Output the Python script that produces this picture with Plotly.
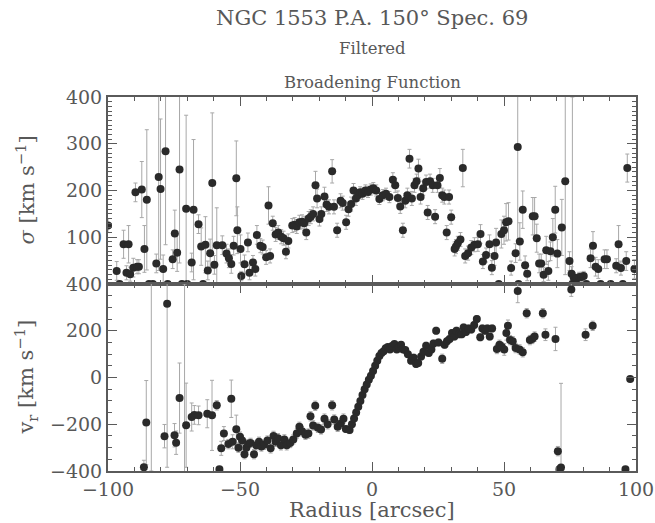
import plotly.graph_objects as go
from plotly.subplots import make_subplots

# ---------------- data ----------------
sig_r = [-100, -96.7, -95.6, -94.1, -93, -92.2, -91.6, -90.4, -89.6, -89, -88.3, -87.2, -86.2, -85.3,
         -84.5, -83, -81.7, -80.8, -80.1, -79.1, -78.2, -77.4, -75.5, -74.7, -73.8, -72.9, -72, -70.4,
         -70, -68.3, -67.6, -65.7, -64.7, -64, -63.1, -62.2, -61.3, -60.5, -59.7, -58.8, -56.7, -55.1,
         -54.2, -53.3, -52.4, -51.4, -51, -49.8, -49.5, -48.3, -47, -46.4, -45.1, -44.2, -43.6, -42.3,
         -41.4, -40.1, -39.2, -38.6, -37.6, -36.5, -35.5, -34.4, -33.5, -32.6, -31.7, -30.2, -29.3,
         -28.5, -27.5, -26.5, -25.7, -24.9, -24, -23.2, -22.3, -21.4, -20.8, -19.9, -19.2, -18, -17.2,
         -16.3, -15.1, -14.4, -13.2, -11.9, -11.1, -9.8, -8.9, -7.9, -7, -6.1, -5.3, -4.5, -3.6, -2.5,
         -1.5, -0.5, 0.5, 1.6, 2.8, 4.1, 5.3, 6.6, 7.9, 8.8, 9.8, 10.7, 11.7, 12.6, 13.4, 14.2, 15.1,
         16.1, 16.9, 17.6, 18.4, 19.4, 20.5, 21.1, 22, 23, 23.9, 24.8, 25.7, 26.6, 27.4, 28.3, 29.2, 30,
         31.3, 31.8, 32.5, 33.5, 34.4, 35.3, 36.4, 37.6, 38.8, 40.1, 41.1, 42, 43.2, 44.5, 45.4, 46.4,
         47, 48, 49, 50, 50.8, 51.7, 52.7, 54.4, 55.2, 55.5, 56, 57.1, 58, 58.8, 60.9, 61.6, 62.4, 63.3,
         64.1, 65, 66, 66.8, 67.6, 68.5, 69.4, 70.2, 71.9, 73.2, 74.8, 75.6, 75.9, 76.4, 77.4, 78.5,
         79.4, 80.2, 81.2, 82.8, 83.7, 84.7, 85.7, 86.6, 88.1, 89, 90.4, 92.5, 93.4, 94.3, 95, 96.3,
         96.7, 99.4]
sig_v = [125, 28, 0, 85, 24, 85, 21, 35, 196, 37, 37, 202, 75, 180,
         0, 0, 44, 229, 203, 32, 284, 0, 53, 108, 67, 245, 0, 161,
         0, 46, 159, 128, 80, 0, 84, 29, 66, 216, 41, 83, 83, 65,
         55, 43, 82, 226, 115, 75, 17, 42, 89, 24, 46, 32, 105, 82,
         79, 57, 168, 60, 130, 106, 110, 101, 98, 69, 92, 125, 127,
         123, 132, 133, 130, 110, 140, 144, 150, 211, 183, 139, 150, 187, 170,
         165, 241, 165, 115, 178, 173, 132, 160, 171, 200, 183, 190, 196, 193, 200,
         197, 202, 205, 200, 182, 190, 193, 186, 223, 211, 184, 166, 115, 178, 190, 268, 183,
         211, 220, 247, 186, 205, 218, 153, 220, 211, 144, 211, 227, 190, 186, 110, 186, 143,
         75, 80, 87, 95, 248, 60, 66, 78, 84, 85, 107, 48, 62, 85, 35, 60,
         89, 0, 107, 115, 132, 134, 34, 66, 293, 0, 91, 159, 40, 22, 145, 145, 98, 44,
         44, 20, 72, 28, 70, 100, 159, 65, 121, 220, 49, 22, 0, 14, 10, 15,
         15, 17, 0, 55, 82, 37, 32, 0, 53, 53, 0, 39, 85, 34, 0, 49,
         248, 32]
sig_e = [15, 20, 5, 30, 15, 40, 15, 20, 20, 15, 15, 60, 50, 150,
         5, 5, 20, 200, 150, 30, 200, 5, 20, 50, 40, 200, 5, 200,
         5, 20, 150, 20, 40, 5, 60, 20, 30, 150, 20, 80, 20, 20,
         20, 20, 20, 80, 50, 30, 10, 20, 20, 15, 15, 15, 20, 15,
         15, 15, 40, 15, 15, 15, 15, 15, 15, 15, 15, 15, 15,
         15, 15, 15, 15, 15, 15, 15, 15, 30, 20, 15, 15, 20, 15,
         15, 25, 15, 15, 15, 15, 15, 15, 15, 15, 15, 12, 12, 12, 12,
         12, 12, 12, 12, 12, 12, 12, 12, 15, 15, 15, 15, 15, 15, 15, 20, 15,
         15, 15, 20, 15, 15, 15, 15, 15, 15, 15, 15, 20, 15, 15, 15, 15, 15,
         15, 15, 15, 15, 40, 15, 15, 15, 15, 15, 20, 15, 15, 20, 15, 20,
         30, 5, 30, 30, 40, 40, 15, 20, 200, 5, 40, 40, 20, 15, 40, 40, 30, 20,
         20, 15, 30, 20, 20, 40, 50, 30, 60, 200, 20, 15, 400, 10, 10, 10,
         10, 10, 5, 20, 30, 20, 20, 5, 20, 20, 5, 15, 40, 15, 5, 20,
         30, 20]

vel_r = [-86.4, -85.5, -83.6, -78.6, -77.6, -74.8, -74.2, -72.9, -71.0, -70.4, -68.3, -67.3, -65.7,
         -62.4, -60.6, -58.8, -57.8, -57.1, -56.1, -54.4, -53.3, -52.8, -51.4, -50.6, -50, -49.2,
         -48.3, -47.6, -46.9, -46, -44.7, -43.8, -42.8, -41.9, -40.9, -39.6, -38.4, -37.3, -36.5,
         -35.6, -34.5, -33.2, -32.3, -31, -29.8, -28.5, -27.5, -26.5, -25.2, -24.1, -23.3, -22.3,
         -21.5, -20.5, -19.3, -18, -16.8, -15.1, -14.3, -13, -11.8, -10.8, -9.9, -8.5, -7.6, -6.8,
         -6, -5.2, -4.4, -3.6, -2.8, -2, -1.2, -0.4, 0.4, 1.2, 2, 2.8, 3.6, 4.4, 5.2, 6, 6.8, 7.6,
         8.5, 9.4, 10.2, 11, 11.8, 12.6, 13.6, 14.8, 15.8, 16.7, 17.5, 18.6, 19.5, 20.5, 21.5, 22.5,
         23.3, 24.3, 25.2, 26.6, 27.5, 28.4, 29.4, 30.3, 31.2, 32, 33, 34, 34.7, 35.6, 36.6, 37.6,
         38.7, 39.7, 41, 41.8, 42.8, 43.7, 44.6, 45.5, 47.3, 48.3, 49.2, 50.1, 50.9, 51.5, 52.3,
         53.3, 54.4, 55.2, 55.9, 57.1, 58.6, 59.8, 60.7, 61.6, 64.7, 65.7, 69.5, 70.4, 71, 71.6,
         75.5, 80.9, 83.6, 96, 97.8]
vel_v = [-384, -193, 450, -251, 316, -247, -279, -88, -450, -204, -169, -160, -162,
         -155, -162, -119, -393, -303, -240, -285, -91, -275, -221, -300, -253, -270,
         -328, -300, -285, -280, -328, -290, -275, -295, -288, -270, -303, -250, -275,
         -260, -290, -265, -290, -280, -265, -240, -211, -230, -245, -240, -166, -205,
         -121, -215, -222, -176, -200, -119, -180, -211, -197, -176, -220, -225, -200, -175,
         -150, -125, -100, -75, -50, -30, -10, 8, 28, 50, 72, 92, 105, 112, 125, 130, 120, 135,
         143, 120, 128, 140, 120, 118, 100, 72, 85, 58, 62, 90, 110, 136, 105, 120,
         145, 200, 150, 80, 140, 155, 165, 190, 175, 200, 185, 185, 214, 195, 210, 205,
         225, 250, 172, 210, 200, 210, 175, 210, 122, 140, 130, 120, 190, 221, 160,
         155, 126, 370, 120, 108, 275, 160, 165, 175, 275, 183, 165, -315, -393, -385,
         377, 183, 221, -393, -6]
vel_e = [30, 180, 850, 50, 700, 50, 50, 150, 850, 180, 60, 40, 40,
         60, 150, 20, 10, 30, 30, 20, 80, 30, 60, 20, 20, 20,
         20, 20, 20, 20, 20, 20, 20, 20, 20, 20, 20, 20, 20,
         20, 20, 20, 20, 20, 20, 20, 20, 20, 20, 20, 20, 20,
         20, 20, 20, 20, 20, 20, 20, 20, 20, 20, 15, 15, 10, 10,
         10, 10, 10, 10, 10, 10, 10, 10, 10, 10, 10, 10, 10, 10, 10, 10, 10, 10,
         10, 10, 10, 10, 10, 10, 12, 15, 15, 15, 15, 15, 15, 15, 15, 15,
         15, 15, 15, 20, 15, 15, 15, 15, 15, 15, 15, 15, 15, 15, 15, 15,
         15, 15, 15, 15, 15, 15, 15, 15, 20, 20, 20, 25, 30, 25, 20,
         20, 20, 50, 20, 20, 20, 20, 20, 20, 20, 25, 50, 20, 10, 360,
         30, 25, 20, 10, 10]

x_ticks = [-100, -50, 0, 50, 100]
sig_ticks = [100, 200, 300, 400]
vel_ticks = [-400, -200, 0, 200, 400]

# ---------------- figure ----------------
FONT = "DejaVu Serif"
TXT = "#585858"
AX = "#5a5a5a"
MK = "#2a2a2a"
EB = "#a8a8a8"

fig = make_subplots(rows=2, cols=1, shared_xaxes=True, vertical_spacing=0)

fig.add_trace(go.Scatter(
    x=sig_r, y=sig_v, mode="markers",
    marker=dict(size=8, color=MK, line=dict(width=0)),
    error_y=dict(type="data", array=sig_e, color=EB, thickness=1, width=2),
    showlegend=False), row=1, col=1)

fig.add_trace(go.Scatter(
    x=vel_r, y=vel_v, mode="markers",
    marker=dict(size=8, color=MK, line=dict(width=0)),
    error_y=dict(type="data", array=vel_e, color=EB, thickness=1, width=2),
    showlegend=False), row=2, col=1)

axis_common = dict(
    showgrid=False, zeroline=False, showline=True, linecolor=AX, linewidth=2,
    mirror="allticks", ticks="inside", tickcolor=AX, tickwidth=1,
    tickfont=dict(family=FONT, size=19, color=TXT),
)

fig.update_xaxes(**axis_common, range=[-100, 100], tickvals=x_ticks, ticklen=9,
                 minor=dict(dtick=10, ticks="inside", ticklen=4, tickcolor=AX, tickwidth=1))
fig.update_xaxes(showticklabels=False, row=1, col=1)
fig.update_xaxes(ticktext=["\u2212100", "\u221250", "0", "50", "100"], tickvals=x_ticks, row=2, col=1)

fig.update_yaxes(**axis_common, ticklen=9)
fig.update_yaxes(range=[0, 400], tickvals=sig_ticks,
                 minor=dict(dtick=10, tick0=0, ticks="inside", ticklen=4, tickcolor=AX, tickwidth=1),
                 row=1, col=1)
fig.update_yaxes(range=[-400, 400], tickvals=vel_ticks,
                 ticktext=["\u2212400", "\u2212200", "0", "200", "400"],
                 minor=dict(dtick=50, tick0=0, ticks="inside", ticklen=4, tickcolor=AX, tickwidth=1),
                 row=2, col=1)

ann = [
    dict(text="NGC 1553 P.A. 150\u00b0 Spec. 69", x=0.5, y=1, yshift=79, size=21),
    dict(text="Filtered", x=0.5, y=1, yshift=49, size=16.5),
    dict(text="Broadening Function", x=0.5, y=1, yshift=15, size=16.5),
]
for a in ann:
    fig.add_annotation(text=a["text"], xref="paper", yref="paper", x=a["x"], y=a["y"],
                       yshift=a["yshift"], xanchor="center", yanchor="middle", showarrow=False,
                       font=dict(family=FONT, size=a["size"], color=TXT))

fig.add_annotation(text="Radius [arcsec]", xref="paper", yref="paper", x=0.5, y=0,
                   yshift=-39, xanchor="center", yanchor="middle", showarrow=False,
                   font=dict(family=FONT, size=21, color=TXT))
fig.add_annotation(text="<i>\u03c3</i> [km s<sup>\u22121</sup>]", xref="paper", yref="paper",
                   x=0, y=0.75, xshift=-83, textangle=-90, xanchor="center", yanchor="middle",
                   showarrow=False, font=dict(family=FONT, size=21, color=TXT))
fig.add_annotation(text="v<sub>r</sub> [km s<sup>\u22121</sup>]", xref="paper", yref="paper",
                   x=0, y=0.25, xshift=-83, textangle=-90, xanchor="center", yanchor="middle",
                   showarrow=False, font=dict(family=FONT, size=21, color=TXT))

fig.update_layout(
    width=655, height=523,
    margin=dict(l=108, r=19, t=97, b=52, autoexpand=False),
    paper_bgcolor="white", plot_bgcolor="white",
)

fig.write_html("out.html", config={"displayModeBar": False},
               post_script="document.body.style.margin='0px';document.body.style.overflow='hidden';")
